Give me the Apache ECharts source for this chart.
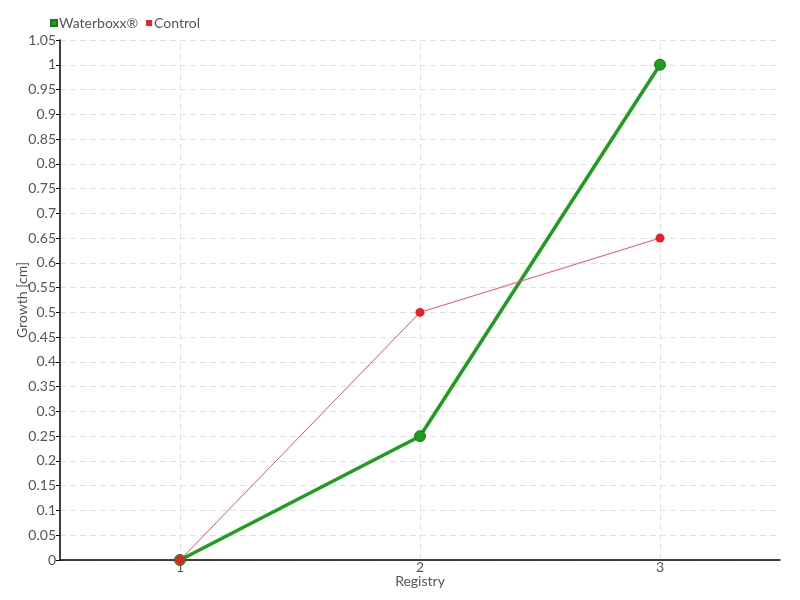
<!DOCTYPE html>
<html><head><meta charset="utf-8">
<script src="https://cdn.jsdelivr.net/npm/echarts@6/dist/echarts.min.js"></script>
<style>html,body{margin:0;padding:0;background:#fff}#c{width:800px;height:600px}</style>
</head><body><div id="c"></div>
<script>
const categories = ['1', '2', '3'];
const waterboxx = [0, 0.25, 1];
const control = [0, 0.5, 0.65];
const seriesNames = ['Waterboxx®', 'Control'];
const xName = 'Registry';
const yName = 'Growth [cm]';

const FONT = 'Lato, "DejaVu Sans Condensed", sans-serif';
const chart = echarts.init(document.getElementById('c'));
chart.setOption({
  animation: false,
  textStyle: { fontFamily: FONT },
  legend: {
    left: 45, top: 11, itemWidth: 6, itemHeight: 6, itemGap: 8,
    icon: 'rect',
    textStyle: { fontFamily: FONT, fontSize: 14, color: '#555', padding: [0, 0, 0, -3] },
    data: seriesNames
  },
  grid: { left: 60, right: 20, top: 40, bottom: 40, containLabel: false, outerBoundsMode: 'none' },
  xAxis: {
    type: 'category', data: categories, boundaryGap: true,
    name: xName, nameLocation: 'middle', nameGap: 14, nameMoveOverlap: false,
    nameTextStyle: { fontFamily: FONT, fontSize: 14, color: '#555' },
    axisLine: { lineStyle: { color: '#000', width: 1.5 } },
    axisTick: { alignWithLabel: true, length: 6, lineStyle: { color: '#555' } },
    axisLabel: { fontFamily: FONT, fontSize: 14, color: '#555', margin: 0 },
    splitLine: { show: false }
  },
  yAxis: {
    type: 'value', min: 0, max: 1.05, interval: 0.05,
    name: yName, nameLocation: 'middle', nameGap: 31, nameMoveOverlap: false,
    nameTextStyle: { fontFamily: FONT, fontSize: 14, color: '#555' },
    axisLine: { show: true, lineStyle: { color: '#000', width: 1.5 } },
    axisTick: { show: true, length: 4, lineStyle: { color: '#000' } },
    axisLabel: { fontFamily: FONT, fontSize: 14, color: '#555', margin: 4,
      formatter: v => String(+v.toFixed(2)) },
    splitLine: { lineStyle: { color: '#e0e0e0', type: [6, 4] } }
  },
  series: [
    {
      name: 'vgrid', type: 'line', data: [], z: 0, silent: true,
      markLine: {
        silent: true, symbol: 'none', label: { show: false }, z: 0,
        lineStyle: { color: '#e0e0e0', type: [6, 4], width: 1 },
        data: categories.map(c => ({ xAxis: c }))
      }
    },
    {
      name: seriesNames[0], type: 'line', data: waterboxx,
      symbol: 'circle', symbolSize: 11,
      itemStyle: { color: '#1e9e1e', borderColor: '#1a7a1a', borderWidth: 1 },
      lineStyle: { color: '#1e9e1e', width: 3.5 },
      z: 3
    },
    {
      name: seriesNames[1], type: 'line', data: control,
      symbol: 'circle', symbolSize: 9,
      itemStyle: { color: '#e8202a', borderWidth: 0 },
      lineStyle: { color: '#ff4d55', width: 1 },
      z: 4
    }
  ]
});
</script></body></html>
